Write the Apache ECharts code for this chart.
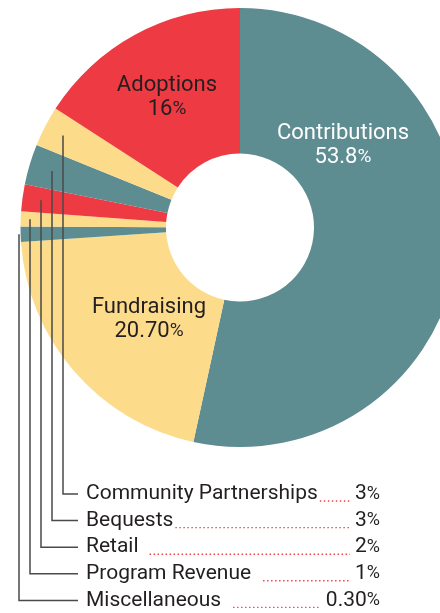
<!DOCTYPE html>
<html>
<head>
<meta charset="utf-8">
<script src="https://cdn.jsdelivr.net/npm/echarts@6/dist/echarts.min.js"></script>
<style>
html,body{margin:0;padding:0;background:#ffffff;}
#c{width:440px;height:613px;}
</style>
</head>
<body>
<div id="c"></div>
<script>
// ---- data ----
const categories = ['Contributions', 'Fundraising', 'Miscellaneous', 'Program Revenue', 'Retail', 'Bequests', 'Community Partnerships', 'Adoptions'];
const shares = [53.8, 20.7, 0.3, 1, 2, 3, 3, 16];
const shareLabels = ['53.8%', '20.70%', '0.30%', '1%', '2%', '3%', '3%', '16%'];
const insideLabels = ['Contributions', 'Fundraising', 'Adoptions'];

// ---- styles / layout ----
const TEAL = '#5d8c91', RED = '#ee3a43', YELLOW = '#fcdb8b', INK = '#231f20';
const sliceColors = [TEAL, YELLOW, TEAL, YELLOW, RED, TEAL, YELLOW, RED];
const insideLabelColor = { 'Contributions': '#ffffff', 'Fundraising': INK, 'Adoptions': INK };
const insideLabelPos = { 'Contributions': [343, 145.5], 'Fundraising': [149, 319], 'Adoptions': [167, 97] };
const CX = 240, CY = 227.5, R0 = 74, R1 = 219.5;
const LIST_TOP = 494, ROW_STEP = 26.6, TEXT_X = 86, LINE_END_X = 78;
const LEAD_X0 = 63, LEAD_STEP = 11;
const VALUE_RIGHT = 380;
const dotGaps = [2, 2, 11, 12, 12];

function fontAvailable(name) {
  const ctx = document.createElement('canvas').getContext('2d');
  const s = 'Contributions Adoptions 0123456789';
  ctx.font = '40px monospace';
  const w1 = ctx.measureText(s).width;
  ctx.font = '40px "' + name + '", monospace';
  return Math.abs(ctx.measureText(s).width - w1) > 0.5;
}
const narrowOK = fontAvailable('Liberation Sans Narrow');
const BIG_FONT = narrowOK ? '"Liberation Sans Narrow"' : 'Roboto';
const BIG_SIZE = narrowOK ? 26 : 22;
const BIG_PCT = narrowOK ? 23 : 19;
const LIST_FONT = 'Roboto';
const LIST_SIZE = 21, PCT_SIZE = 18;

const mctx = document.createElement('canvas').getContext('2d');
function measure(text, size, family) {
  mctx.font = size + 'px ' + family;
  return mctx.measureText(text).width;
}

const listOrder = categories.filter(n => insideLabels.indexOf(n) < 0).reverse();

const chart = echarts.init(document.getElementById('c'), null, { renderer: 'canvas' });

const data = categories.map((name, i) => {
  const txt = shareLabels[i];
  const inside = insideLabels.indexOf(name) >= 0;
  const col = insideLabelColor[name];
  return {
    name: name,
    value: shares[i],
    itemStyle: { color: sliceColors[i] },
    label: inside ? {
      position: 'inside',
      formatter: '{n|' + name + '}\n{v|' + txt.slice(0, -1) + '}{p|%}',
      rich: {
        n: { fontFamily: BIG_FONT, fontSize: BIG_SIZE, color: col, lineHeight: 24 },
        v: { fontFamily: BIG_FONT, fontSize: BIG_SIZE, color: col, lineHeight: 24 },
        p: { fontFamily: BIG_FONT, fontSize: BIG_PCT, color: col, lineHeight: 24 }
      }
    } : {
      position: 'outside',
      formatter: name,
      fontFamily: LIST_FONT,
      fontSize: LIST_SIZE,
      color: INK
    },
    labelLine: { show: false }
  };
});

// dotted leaders and values of the list
const graphics = [];
listOrder.forEach((name, k) => {
  const i = categories.indexOf(name);
  const txt = shareLabels[i];
  const rowY = LIST_TOP + k * ROW_STEP;
  const nameW = measure(name, LIST_SIZE, LIST_FONT);
  const valW = measure(txt.slice(0, -1), LIST_SIZE, LIST_FONT) + measure('%', PCT_SIZE, LIST_FONT);
  graphics.push({
    type: 'line',
    silent: true,
    shape: { x1: TEXT_X + nameW + dotGaps[k], y1: rowY + 7, x2: VALUE_RIGHT - valW - 5, y2: rowY + 7 },
    style: { stroke: RED, lineWidth: 1.4, lineDash: [1.4, 2.6] }
  });
  graphics.push({
    type: 'text',
    silent: true,
    x: VALUE_RIGHT,
    y: rowY,
    style: {
      text: '{v|' + txt.slice(0, -1) + '}{p|%}',
      align: 'right',
      verticalAlign: 'middle',
      fill: INK,
      rich: {
        v: { fontFamily: LIST_FONT, fontSize: LIST_SIZE, fill: INK, lineHeight: 24 },
        p: { fontFamily: LIST_FONT, fontSize: PCT_SIZE, fill: INK, lineHeight: 24 }
      }
    }
  });
});

chart.setOption({
  animation: false,
  graphic: graphics,
  series: [{
    type: 'pie',
    center: [CX, CY],
    radius: [R0, R1],
    startAngle: 90,
    clockwise: true,
    minAngle: 4,
    avoidLabelOverlap: false,
    silent: true,
    label: { show: true },
    labelLine: { show: false },
    labelLayout: function (p) {
      const name = categories[p.dataIndex];
      if (insideLabelPos[name]) {
        const q = insideLabelPos[name];
        return { x: q[0], y: q[1], align: 'center', verticalAlign: 'middle' };
      }
      const k = listOrder.indexOf(name);
      return { x: TEXT_X, y: LIST_TOP + k * ROW_STEP, align: 'left', verticalAlign: 'middle' };
    },
    data: data
  }]
});

// leader lines from the middle of each small slice (angles from the pie's own layout)
const pieData = chart.getModel().getSeriesByIndex(0).getData();
const leaders = listOrder.map((name, k) => {
  const lay = pieData.getItemLayout(categories.indexOf(name));
  const a = (lay.startAngle + lay.endAngle) / 2;
  const lx = LEAD_X0 - k * LEAD_STEP;
  const sy = lay.cy + Math.sin(a) * (lx - lay.cx) / Math.cos(a);
  const rowY = LIST_TOP + k * ROW_STEP;
  return {
    type: 'polyline',
    silent: true,
    z: 100,
    shape: { points: [[lx, sy], [lx, rowY], [LINE_END_X, rowY]] },
    style: { stroke: '#4a4a4a', lineWidth: 1.5, fill: null }
  };
});
chart.setOption({ graphic: graphics.concat(leaders) });
</script>
</body>
</html>
